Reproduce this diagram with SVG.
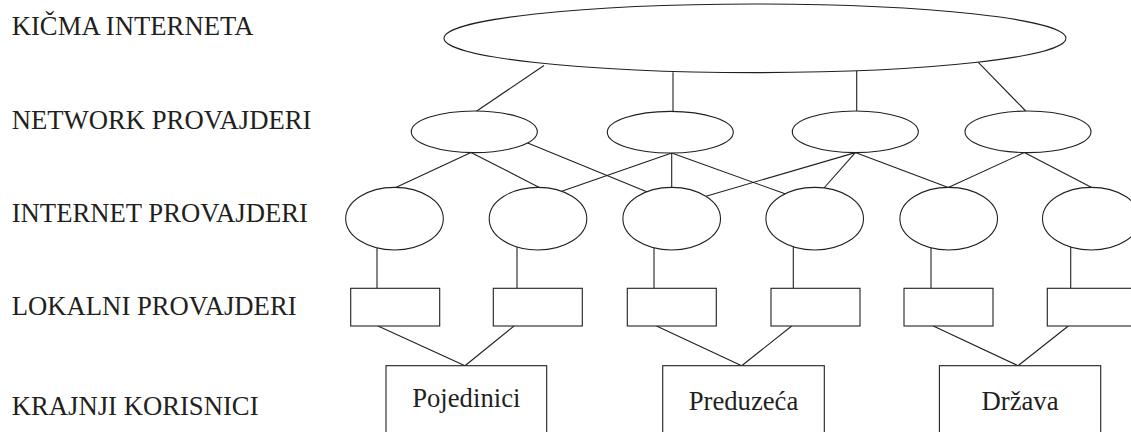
<svg xmlns="http://www.w3.org/2000/svg" width="1131" height="432" viewBox="0 0 1131 432">
  <style>
    .shape { fill: #ffffff; stroke: #231f20; stroke-width: 1.1; }
    .link { stroke: #231f20; stroke-width: 1.1; fill: none; }
    .label { font-family: "Liberation Serif", "Times New Roman", serif; font-size: 26.7px; fill: #231f20; }
    .name { font-family: "Liberation Serif", "Times New Roman", serif; font-size: 26.7px; fill: #231f20; text-anchor: middle; }
  </style>
  <rect width="1131" height="432" fill="#ffffff"/>

  <!-- level captions -->
  <g id="captions">
    <text class="label" x="11.7" y="35">KIČMA INTERNETA</text>
    <text class="label" x="11.7" y="129.3">NETWORK PROVAJDERI</text>
    <text class="label" x="11.7" y="221.7">INTERNET PROVAJDERI</text>
    <text class="label" x="11.7" y="315">LOKALNI PROVAJDERI</text>
    <text class="label" x="11.7" y="415">KRAJNJI KORISNICI</text>
  </g>

  <!-- connectors -->
  <g id="connectors" class="link">
    <!-- backbone to network providers -->
    <line x1="544" y1="65.5" x2="476" y2="111.5"/>
    <line x1="673" y1="72.3" x2="673" y2="111.5"/>
    <line x1="856.7" y1="70.8" x2="856.7" y2="111"/>
    <line x1="978.3" y1="62.4" x2="1025.7" y2="111"/>
    <!-- network providers to internet providers -->
    <line x1="471" y1="152.5" x2="395.7" y2="187.4"/>
    <line x1="471" y1="152.5" x2="539.3" y2="187.4"/>
    <line x1="527.7" y1="143" x2="646.7" y2="191.8"/>
    <line x1="671.7" y1="153" x2="561.7" y2="191.2"/>
    <line x1="671.7" y1="153" x2="671.7" y2="187.4"/>
    <line x1="671.7" y1="153" x2="785" y2="193.8"/>
    <line x1="855.3" y1="152.6" x2="706" y2="196.2"/>
    <line x1="855.3" y1="152.6" x2="824" y2="188"/>
    <line x1="855.3" y1="152.6" x2="948.3" y2="187.6"/>
    <line x1="1024.3" y1="152.6" x2="948.3" y2="187.6"/>
    <line x1="1024.3" y1="152.6" x2="1091.7" y2="187.6"/>
    <!-- internet providers to local providers -->
    <line x1="377" y1="247.9" x2="377" y2="288.3"/>
    <line x1="517" y1="246.7" x2="517" y2="288.3"/>
    <line x1="654" y1="247.9" x2="654" y2="288.3"/>
    <line x1="793.3" y1="246.6" x2="793.3" y2="288.3"/>
    <line x1="931" y1="247.9" x2="931" y2="288.3"/>
    <line x1="1070.7" y1="246.8" x2="1070.7" y2="288.3"/>
    <!-- local providers to end users -->
    <line x1="378" y1="326" x2="465" y2="365.7"/>
    <line x1="514" y1="326" x2="465" y2="365.7"/>
    <line x1="656.5" y1="326" x2="741.7" y2="365.7"/>
    <line x1="791.7" y1="326" x2="741.7" y2="365.7"/>
    <line x1="933.3" y1="326" x2="1018" y2="365.7"/>
    <line x1="1068.3" y1="326" x2="1018" y2="365.7"/>
  </g>

  <!-- backbone -->
  <g id="kicma">
    <ellipse class="shape" cx="755" cy="38.3" rx="311" ry="34.3"/>
  </g>

  <!-- network providers -->
  <g id="network-1"><ellipse class="shape" cx="474.3" cy="131.8" rx="63" ry="20.8"/></g>
  <g id="network-2"><ellipse class="shape" cx="670.3" cy="132.2" rx="63" ry="20.8"/></g>
  <g id="network-3"><ellipse class="shape" cx="855.3" cy="131.8" rx="63" ry="20.8"/></g>
  <g id="network-4"><ellipse class="shape" cx="1028" cy="131.8" rx="63" ry="20.8"/></g>

  <!-- internet providers -->
  <g id="internet-1"><ellipse class="shape" cx="394.5" cy="218.7" rx="48.8" ry="31.3"/></g>
  <g id="internet-2"><ellipse class="shape" cx="538" cy="218.7" rx="48.8" ry="31.3"/></g>
  <g id="internet-3"><ellipse class="shape" cx="671.7" cy="218.7" rx="48.8" ry="31.3"/></g>
  <g id="internet-4"><ellipse class="shape" cx="814.7" cy="218.7" rx="48.8" ry="31.3"/></g>
  <g id="internet-5"><ellipse class="shape" cx="948.7" cy="218.7" rx="48.8" ry="31.3"/></g>
  <g id="internet-6"><ellipse class="shape" cx="1091.3" cy="218.7" rx="48.8" ry="31.3"/></g>

  <!-- local providers -->
  <g id="lokalni-1"><rect class="shape" x="350.7" y="288.3" width="89" height="37.7"/></g>
  <g id="lokalni-2"><rect class="shape" x="493.3" y="288.3" width="89" height="37.7"/></g>
  <g id="lokalni-3"><rect class="shape" x="627.3" y="288.3" width="89" height="37.7"/></g>
  <g id="lokalni-4"><rect class="shape" x="771" y="288.3" width="89" height="37.7"/></g>
  <g id="lokalni-5"><rect class="shape" x="904" y="288.3" width="89" height="37.7"/></g>
  <g id="lokalni-6"><rect class="shape" x="1047.3" y="288.3" width="89" height="37.7"/></g>

  <!-- end users -->
  <g id="pojedinici">
    <rect class="shape" x="386" y="365.7" width="160.7" height="80"/>
    <text class="name" x="466.3" y="407">Pojedinici</text>
  </g>
  <g id="preduzeca">
    <rect class="shape" x="662.7" y="365.7" width="161.6" height="80"/>
    <text class="name" x="743.5" y="410">Preduzeća</text>
  </g>
  <g id="drzava">
    <rect class="shape" x="939.4" y="365.7" width="161.3" height="80"/>
    <text class="name" x="1020" y="410">Država</text>
  </g>
</svg>
